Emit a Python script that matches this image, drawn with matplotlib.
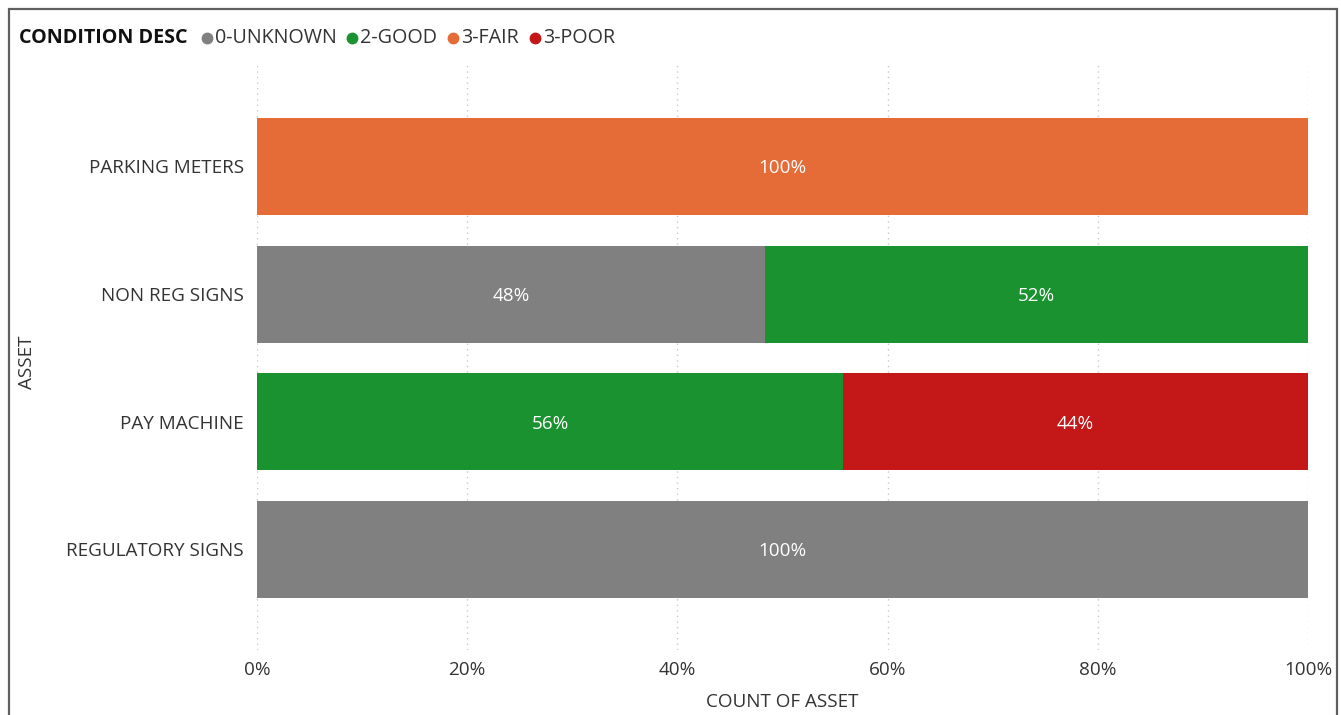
import matplotlib
matplotlib.use("Agg")
import matplotlib.pyplot as plt
from matplotlib.patches import Rectangle
import numpy as np

categories = ["PARKING METERS", "NON REG SIGNS", "PAY MACHINE", "REGULATORY SIGNS"]
series_names = ["0-UNKNOWN", "2-GOOD", "3-FAIR", "3-POOR"]
unknown = [0.0, 48.3, 0.0, 100.0]
good = [0.0, 51.7, 55.8, 0.0]
fair = [100.0, 0.0, 0.0, 0.0]
poor = [0.0, 0.0, 44.2, 0.0]
xticks = [0, 20, 40, 60, 80, 100]
colors = ["#808080", "#1A922F", "#E66C37", "#C41718"]

plt.rcParams['font.family'] = ['Open Sans', 'DejaVu Sans']
FS = 13.6
LFS = 14.2

W, H = 1341, 715
fig = plt.figure(figsize=(W / 100, H / 100), dpi=100)
ax = fig.add_axes([257 / W, 1 - 650 / H, (1308 - 257) / W, (650 - 65) / H])

y = np.arange(len(categories))
left = np.zeros(len(categories))
for name, vals, col in zip(series_names, [unknown, good, fair, poor], colors):
    vals = np.array(vals)
    ax.barh(y, vals, left=left, height=0.76, color=col, label=name, zorder=2)
    for yi, (l, v) in enumerate(zip(left, vals)):
        if v > 0:
            ax.text(l + v / 2, yi + 0.015, f"{v:.0f}%", ha='center', va='center',
                    color='white', fontsize=FS, zorder=3)
    left += vals

ax.set_ylim(3.79, -0.795)
ax.set_xlim(0, 100)
ax.set_yticks(y)
ax.set_yticklabels(categories, fontsize=FS, color='#333333')
for lbl in ax.get_yticklabels():
    lbl.set_y(lbl.get_position()[1])
ax.set_xticks(xticks)
ax.set_xticklabels([f"{t}%" for t in xticks], fontsize=FS, color='#333333')
ax.tick_params(length=0)
ax.tick_params(axis='y', pad=9.5)
ax.tick_params(axis='x', pad=8)
for s in ax.spines.values():
    s.set_visible(False)
ax.grid(axis='x', linestyle=(0, (1, 3)), color='#C8C8C8', linewidth=1, zorder=0)
ax.set_axisbelow(True)
ax.set_xlabel("COUNT OF ASSET", fontsize=FS, color='#333333', labelpad=10)
fig.text(27 / W, 1 - 362 / H, "ASSET", rotation=90, ha='center', va='center',
         fontsize=FS, color='#333333')

# frame
fig.patches.append(Rectangle((9 / W, -0.05), (1337 - 9) / W, (1 - 9 / H) + 0.05,
                             transform=fig.transFigure, fill=False,
                             edgecolor='#606060', linewidth=1.6))

# legend
fig.canvas.draw()
r = fig.canvas.get_renderer()
ly = 1 - 38 / H
x = 19
t = fig.text(x / W, ly, "CONDITION DESC", fontsize=LFS, fontweight='bold',
             color='#111111', ha='left', va='center')
x += t.get_window_extent(r).width + 19
for name, col in zip(series_names, colors):
    fig.lines.append(plt.Line2D([x / W], [ly], marker='o', markersize=7.5,
                                color=col, transform=fig.transFigure, linestyle='none'))
    t = fig.text((x + 8) / W, ly, name, fontsize=LFS, color='#333333',
                 ha='left', va='center')
    x += 8 + t.get_window_extent(r).width + 16

fig.savefig("out.png", dpi=100)
